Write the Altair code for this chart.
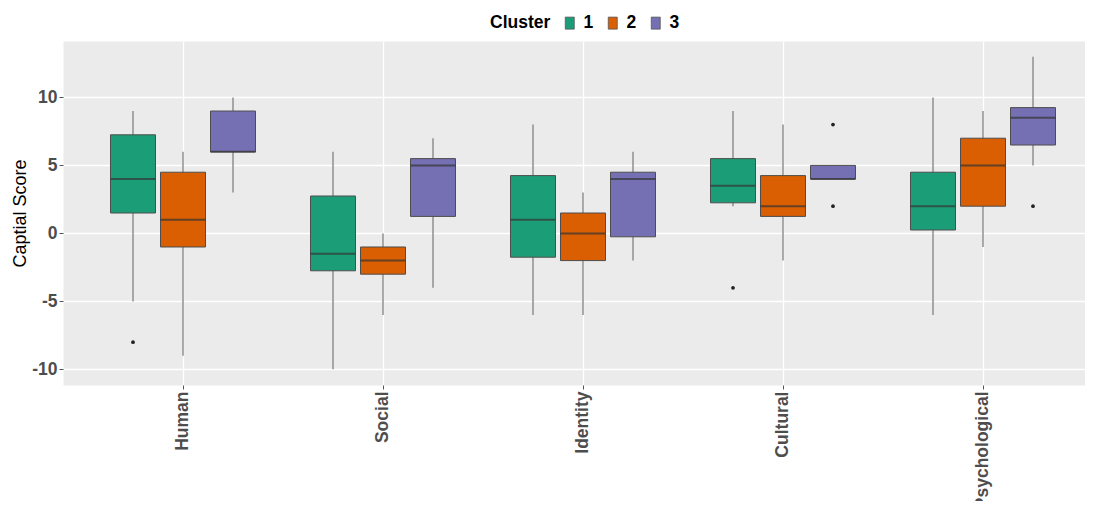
import altair as alt
import pandas as pd

categories = ["Human", "Social", "Identity", "Cultural", "Psychological"]
clusters = ["1", "2", "3"]

# per-cluster box statistics, in category order
whisker_low = {
    "1": [-5, -10, -6, 2, -6],
    "2": [-9, -6, -6, -2, -1],
    "3": [3, -4, -2, 4, 5],
}
q1 = {
    "1": [1.5, -2.75, -1.75, 2.25, 0.25],
    "2": [-1, -3, -2, 1.25, 2],
    "3": [6, 1.25, -0.25, 4, 6.5],
}
median = {
    "1": [4, -1.5, 1, 3.5, 2],
    "2": [1, -2, 0, 2, 5],
    "3": [6, 5, 4, 4, 8.5],
}
q3 = {
    "1": [7.25, 2.75, 4.25, 5.5, 4.5],
    "2": [4.5, -1, 1.5, 4.25, 7],
    "3": [9, 5.5, 4.5, 5, 9.25],
}
whisker_high = {
    "1": [9, 6, 8, 9, 10],
    "2": [6, 0, 3, 8, 9],
    "3": [10, 7, 6, 5, 13],
}
outlier_cat = ["Human", "Cultural", "Cultural", "Cultural", "Psychological"]
outlier_cluster = ["1", "1", "3", "3", "3"]
outlier_val = [-8, -4, 8, 2, 2]

colors = ["#1B9E77", "#D95F02", "#7570B3"]

rows = []
for c in clusters:
    for i, cat in enumerate(categories):
        rows.append({
            "Capital": cat, "Cluster": c,
            "lo": whisker_low[c][i], "q1": q1[c][i], "med": median[c][i],
            "q3": q3[c][i], "hi": whisker_high[c][i],
        })
df = pd.DataFrame(rows)
out = pd.DataFrame({"Capital": outlier_cat, "Cluster": outlier_cluster, "val": outlier_val})

FONT = "Liberation Sans"

xenc = alt.X("Capital:N", sort=categories,
             scale=alt.Scale(domain=categories, range=[0, 1040], paddingInner=0.25, paddingOuter=0.225),
             axis=alt.Axis(title=None, labelAngle=270, labelFontSize=17.5, labelFontWeight="bold",
                           labelColor="#4D4D4D", labelFont=FONT, tickSize=4, tickColor="#555555",
                           labelPadding=2, domain=False, grid=True, gridColor="white", gridWidth=1.3))
xoff = alt.XOffset("Cluster:N", scale=alt.Scale(domain=clusters, paddingInner=0.1, paddingOuter=0.05))
yscale = alt.Scale(domain=[-11.15, 14.15], nice=False, zero=False)
yaxis = alt.Axis(
    title="Captial Score", titleFontSize=18, titleFontWeight="normal", titleColor="black",
    titleFont=FONT, titleX=-34, titleY=172,
    values=[-10, -7.5, -5, -2.5, 0, 2.5, 5, 7.5, 10, 12.5],
    labelExpr="datum.value % 5 === 0 ? '' + datum.value : ''",
    labelFontSize=17.5, labelFontWeight="bold", labelColor="#4D4D4D", labelFont=FONT,
    labelPadding=2, tickSize=4, tickColor="#555555",
    tickOpacity={"condition": {"test": "datum.value % 5 === 0", "value": 1}, "value": 0},
    domain=False, grid=True, gridColor="white",
    gridWidth={"condition": {"test": "datum.value % 5 === 0", "value": 1.3}, "value": 0.6},
)

base = alt.Chart(df)

whisk = base.mark_rule(color="#8f8f8f", strokeWidth=1.5).encode(
    x=xenc, xOffset=xoff,
    y=alt.Y("lo:Q", scale=yscale, axis=yaxis),
    y2="hi:Q",
)
box = base.mark_bar(stroke="#4d4d4d", strokeWidth=1).encode(
    x=xenc, xOffset=xoff,
    y=alt.Y("q1:Q", scale=yscale),
    y2="q3:Q",
    color=alt.Color("Cluster:N", scale=alt.Scale(domain=clusters, range=colors),
                    legend=alt.Legend(title="Cluster", orient="none", direction="horizontal",
                                      titleOrient="left", legendX=427, legendY=-27,
                                      titleFontSize=17.5, titleFontWeight="bold", titleColor="black",
                                      titleFont=FONT, titleBaseline="middle", titlePadding=10,
                                      labelFontSize=17.5, labelFontWeight="bold", labelColor="black",
                                      labelFont=FONT, labelOffset=5, columnPadding=10,
                                      symbolType="M-0.6,-0.8V0.8H0.6V-0.8Z", symbolSize=225,
                                      symbolStrokeColor="#555555", symbolStrokeWidth=0.8,
                                      symbolOpacity=1)),
)
med = base.mark_tick(color="#333333", thickness=2, size=45).encode(
    x=xenc, xOffset=xoff,
    y=alt.Y("med:Q", scale=yscale),
)
pts = alt.Chart(out).mark_circle(color="#222222", size=14, opacity=1).encode(
    x=xenc, xOffset=xoff,
    y=alt.Y("val:Q", scale=yscale),
)

chart = alt.layer(whisk, box, med, pts).properties(
    width=1022, height=344,
    autosize=alt.AutoSizeParams(type="none"),
    padding={"left": 55, "top": 33, "right": 0, "bottom": 116},
).configure(font=FONT).configure_view(fill="#EBEBEB", stroke="transparent")

chart.save("out.html", embed_options={"renderer": "svg", "actions": False})
